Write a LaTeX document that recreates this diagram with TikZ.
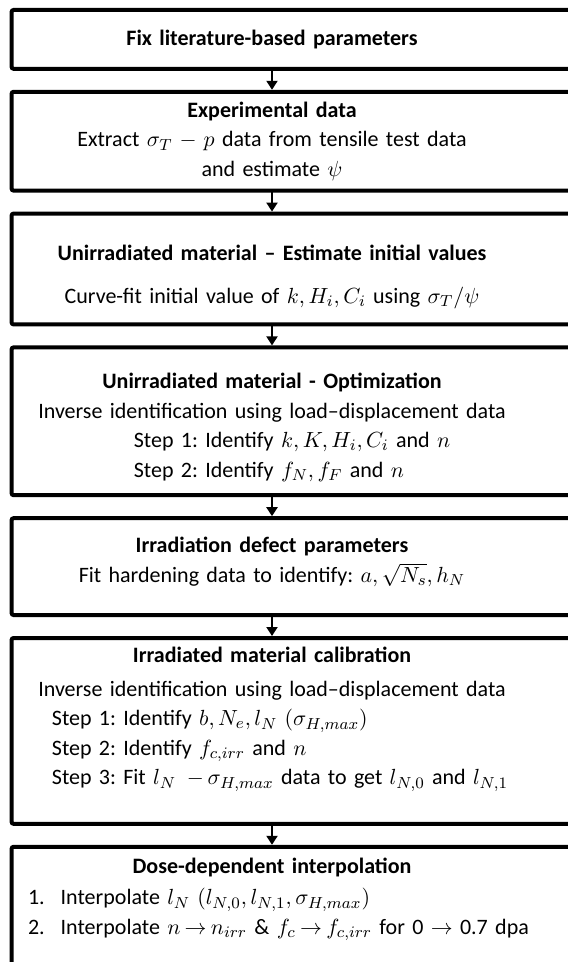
\documentclass[tikz,border=0pt]{standalone}
\usepackage{fontspec}
\setmainfont{Carlito}
\usepackage{amsmath,amssymb}
\usetikzlibrary{positioning,arrows.meta}

% tighter spacing round relations and binary operators
\thickmuskip=3.5mu plus 4mu\relax
\medmuskip=3mu plus 2mu minus 3mu\relax

\tikzset{
    stage/.style={inner sep=0pt, minimum width=260pt, text width=256pt, align=center,
        font=\fontsize{11}{14.8}\selectfont\frenchspacing},
    frame/.style={line width=2pt, rounded corners=1pt},
    flow/.style={line width=1pt, -{Triangle[width=5.5pt,length=4.5pt]}}
}
\newcommand{\steplist}[1]{\begin{tabular}[t]{@{}l@{}}#1\end{tabular}}
% struts that push a text block down or up inside its box
\newcommand{\topgap}[1]{\rule{0pt}{#1}}
\newcommand{\bottomgap}[1]{\rule[-#1]{0pt}{0pt}}

\begin{document}
\begin{tikzpicture}[node distance=11.5pt]
            \useasboundingbox (0,0) rectangle (283.5pt,-481pt);
            % calibration stages, top to bottom
            \node[stage, minimum height=29pt, anchor=north] (fix) at (136pt,-5pt) {
                \textbf{Fix literature-based parameters}};
            \node[stage, minimum height=49pt, below=of fix] (expdata) {
                \textbf{Experimental data}\\
                Extract $\sigma_T - p$ data from tensile test data\\
                and estimate $\psi$};
            \node[stage, minimum height=55pt, below=of expdata] (initval) {
                \topgap{16pt}\textbf{Unirradiated material -- Estimate initial values}\\[6.5pt]
                Curve-fit initial value of $k, H_i, C_i$ using $\sigma_T/\psi$};
            \node[stage, minimum height=73.5pt, below=of initval] (optim) {
                \topgap{16pt}\textbf{Unirradiated material - Optimization}\\
                Inverse identification using load--displacement data\\
                \hspace*{20pt}\steplist{Step 1: Identify $k, K, H_i, C_i$ and $n$\\
                    Step 2: Identify $f_N, f_F$ and $n$}};
            \node[stage, minimum height=48pt, below=of optim] (defect) {
                \textbf{Irradiation defect parameters}\\
                Fit hardening data to identify: $a, \sqrt{N_s}, h_N$\bottomgap{7pt}};
            \node[stage, minimum height=92.5pt, below=of defect] (calib) {
                \textbf{Irradiated material calibration}\\[2pt]
                Inverse identification using load--displacement data\\
                \hspace*{8pt}\steplist{Step 1: Identify $b, N_e, l_N\ (\sigma_{H,max})$\\
                    Step 2: Identify $f_{c,irr}$ and $n$\\
                    Step 3: Fit $l_N\ - \sigma_{H,max}$ data to get $l_{N,0}$ and $l_{N,1}$\bottomgap{15pt}}};
            \node[stage, minimum height=60pt, below=of calib] (interp) {
                \textbf{Dose-dependent interpolation}\\[1pt]
                \hspace*{6pt}\begin{tabular}[t]{@{}l@{\hspace{8pt}}l@{}}
                    1. & Interpolate $l_N\ (l_{N,0}, l_{N,1}, \sigma_{H,max})$\\
                    2. & Interpolate $n \rightarrow n_{irr}$ \& $f_c \rightarrow f_{c,irr}$ for 0 $\rightarrow$ 0.7 dpa\bottomgap{11pt}
                \end{tabular}};
            % frames run off the right side
            \foreach \n in {fix,expdata,initval,optim,defect,calib,interp}
                \draw[frame] (\n.north west) rectangle ([xshift=30pt]\n.south east);
            \foreach \a/\b in {fix/expdata,expdata/initval,initval/optim,optim/defect,defect/calib,calib/interp}
                \draw[flow] (\a.south) -- ([yshift=1pt]\b.north);
        \end{tikzpicture}
\end{document}
